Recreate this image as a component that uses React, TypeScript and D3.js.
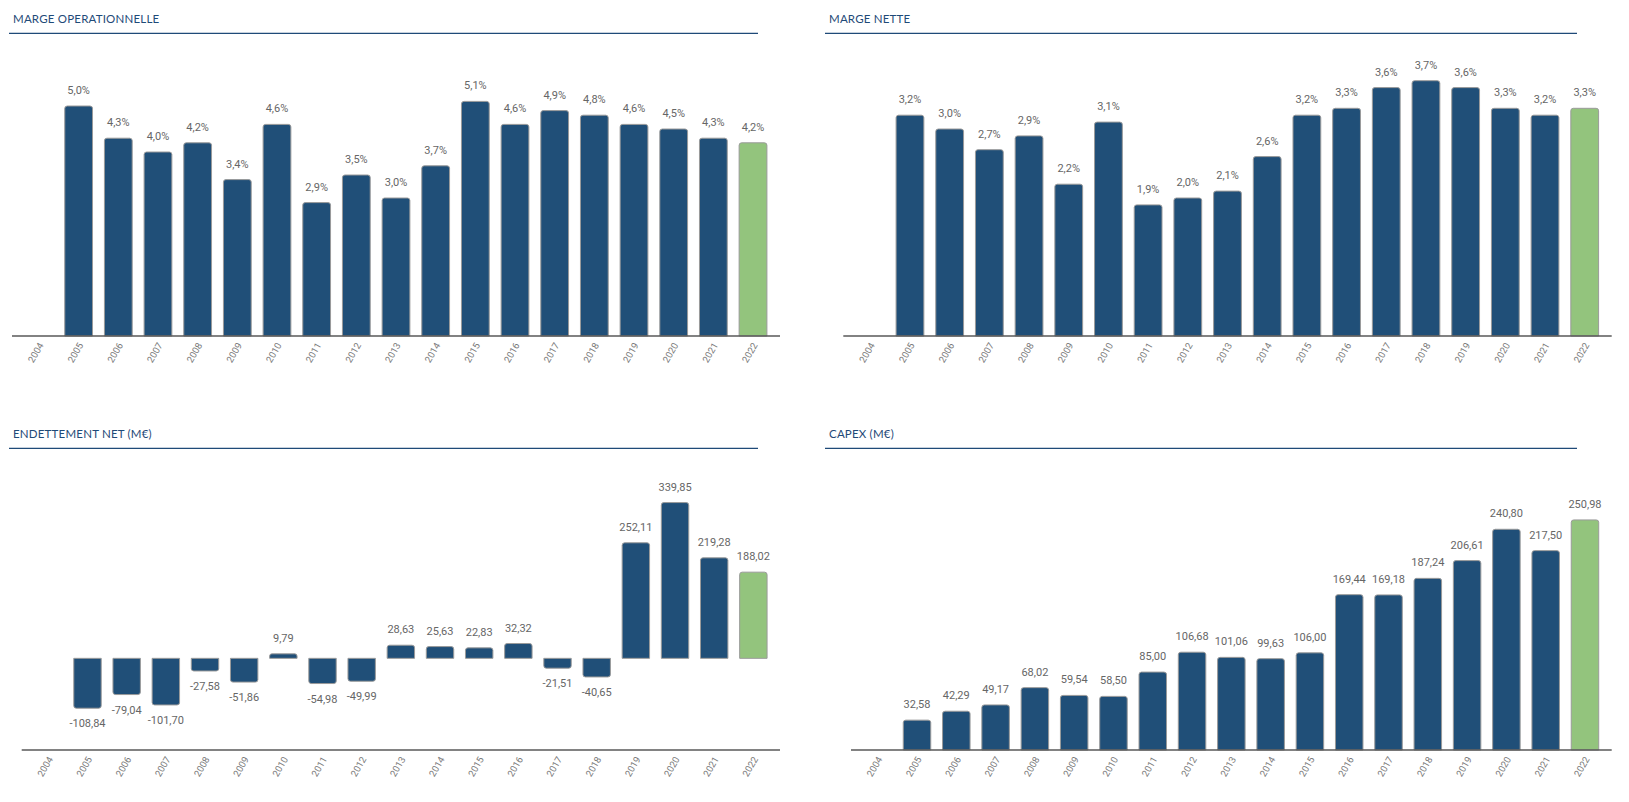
import * as d3 from 'd3';
import React, { useEffect, useRef } from 'react';

const years = ['2004', '2005', '2006', '2007', '2008', '2009', '2010', '2011', '2012', '2013', '2014', '2015', '2016', '2017', '2018', '2019', '2020', '2021', '2022'];

// 2004 has no value in any chart
const margeOperationnelle = [null, 5.0, 4.3, 4.0, 4.2, 3.4, 4.6, 2.9, 3.5, 3.0, 3.7, 5.1, 4.6, 4.9, 4.8, 4.6, 4.5, 4.3, 4.2];
const margeNette = [null, 3.2, 3.0, 2.7, 2.9, 2.2, 3.1, 1.9, 2.0, 2.1, 2.6, 3.2, 3.3, 3.6, 3.7, 3.6, 3.3, 3.2, 3.3];
const endettementNet = [null, -108.84, -79.04, -101.7, -27.58, -51.86, 9.79, -54.98, -49.99, 28.63, 25.63, 22.83, 32.32, -21.51, -40.65, 252.11, 339.85, 219.28, 188.02];
const capex = [null, 32.58, 42.29, 49.17, 68.02, 59.54, 58.5, 85.0, 106.68, 101.06, 99.63, 106.0, 169.44, 169.18, 187.24, 206.61, 240.8, 217.5, 250.98];

const titles = ['MARGE OPERATIONNELLE', 'MARGE NETTE', 'ENDETTEMENT NET (M€)', 'CAPEX (M€)'];
const domains: [number, number][] = [[0, 6], [0, 4], [-200, 400], [0, 300]];

const BLUE = '#204f78';
const GREEN = '#93c47d';
const W = 1629;
const H = 802;

const pct = (v: number) => v.toFixed(1).replace('.', ',') + '%';
const eur = (v: number) => v.toFixed(2).replace('.', ',');

const panels = [
	{ title: titles[0], values: margeOperationnelle, domain: domains[0], fmt: pct, titleX: 13, lineX: [9, 758], titleY: 23.3, plotX: [12, 780], plotY: [60, 336] },
	{ title: titles[1], values: margeNette, domain: domains[1], fmt: pct, titleX: 829, lineX: [825, 1577], titleY: 23.3, plotX: [843.3, 1611.7], plotY: [60, 336] },
	{ title: titles[2], values: endettementNet, domain: domains[2], fmt: eur, titleX: 13, lineX: [9, 758], titleY: 438.3, plotX: [21.7, 780], plotY: [475, 750] },
	{ title: titles[3], values: capex, domain: domains[3], fmt: eur, titleX: 829, lineX: [825, 1577], titleY: 438.3, plotX: [851, 1611.7], plotY: [475, 750] },
];

// bar path with rounded outer end
const barPath = (x: number, w: number, y0: number, y1: number, r: number) => {
	const up = y1 < y0;
	const h = Math.abs(y1 - y0);
	const rr = Math.min(r, h / 2, w / 2);
	if (up) {
		return `M${x},${y0}V${y1 + rr}Q${x},${y1} ${x + rr},${y1}H${x + w - rr}Q${x + w},${y1} ${x + w},${y1 + rr}V${y0}Z`;
	}
	return `M${x},${y0}V${y1 - rr}Q${x},${y1} ${x + rr},${y1}H${x + w - rr}Q${x + w},${y1} ${x + w},${y1 - rr}V${y0}Z`;
};

export default function App() {
	const ref = useRef<SVGSVGElement>(null);

	useEffect(() => {
		document.body.style.margin = '0';
		const svg = d3.select(ref.current);
		svg.selectAll('*').remove();

		panels.forEach((p) => {
			const g = svg.append('g');

			g.append('text')
				.attr('x', p.titleX)
				.attr('y', p.titleY)
				.attr('font-family', 'Lato, "Open Sans", sans-serif')
				.attr('font-size', 11.5)
				.attr('fill', '#1f4a78')
				.attr('letter-spacing', 0.2)
				.text(p.title);

			g.append('line')
				.attr('x1', p.lineX[0])
				.attr('x2', p.lineX[1])
				.attr('y1', p.titleY + 10)
				.attr('y2', p.titleY + 10)
				.attr('stroke', '#1f4a78')
				.attr('stroke-width', 1.2);

			const x = d3.scaleBand<string>()
				.domain(years)
				.range([p.plotX[0], p.plotX[1]])
				.paddingInner(0.3)
				.paddingOuter(0.33);

			const y = d3.scaleLinear().domain(p.domain).range([p.plotY[1], p.plotY[0]]);
			const zero = y(Math.max(0, p.domain[0]));

			const data = years.map((yr, i) => ({ year: yr, value: p.values[i] })).filter((d) => d.value !== null) as { year: string; value: number }[];

			g.append('g')
				.selectAll('path')
				.data(data)
				.join('path')
				.attr('d', (d) => barPath(x(d.year)!, x.bandwidth(), zero, y(d.value), 2.5))
				.attr('fill', (d) => (d.year === '2022' ? GREEN : BLUE))
				.attr('stroke', '#9a9a9a')
				.attr('stroke-width', 1);

			g.append('g')
				.attr('font-family', 'Roboto, sans-serif')
				.attr('font-size', 11)
				.attr('fill', '#666666')
				.attr('text-anchor', 'middle')
				.selectAll('text')
				.data(data)
				.join('text')
				.attr('x', (d) => x(d.year)! + x.bandwidth() / 2)
				.attr('y', (d) => (d.value >= 0 ? y(d.value) - 12 : y(d.value) + 19))
				.text((d) => p.fmt(d.value));

			// x axis
			const base = p.plotY[1];
			g.append('line')
				.attr('x1', p.plotX[0])
				.attr('x2', p.plotX[1])
				.attr('y1', base)
				.attr('y2', base)
				.attr('stroke', '#595959')
				.attr('stroke-width', 1.5);

			g.append('g')
				.attr('font-family', 'Roboto, sans-serif')
				.attr('font-size', 9.5)
				.attr('fill', '#7a7a7a')
				.attr('text-anchor', 'end')
				.selectAll('text')
				.data(years)
				.join('text')
				.attr('transform', (d) => `translate(${x(d)! + x.bandwidth() / 2 + 5},${base + 9}) rotate(-60)`)
				.text((d) => d);
		});
	}, []);

	return <svg ref={ref} width={W} height={H} style={{ display: 'block', background: '#fff' }} />;
}
